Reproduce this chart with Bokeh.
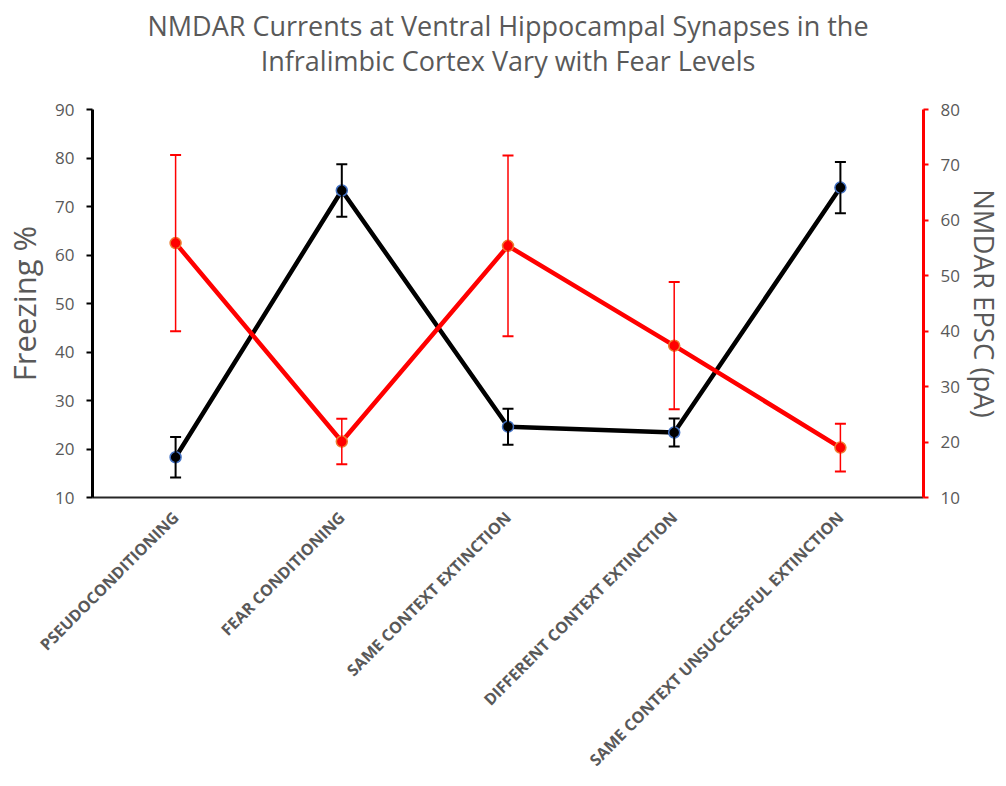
import math
from bokeh.plotting import figure
from bokeh.models import Range1d, LinearAxis, Whisker, TeeHead, ColumnDataSource, FixedTicker, Title
from bokeh.embed import file_html
from bokeh.resources import INLINE

categories = ["PSEUDOCONDITIONING", "FEAR CONDITIONING", "SAME CONTEXT EXTINCTION",
              "DIFFERENT CONTEXT EXTINCTION", "SAME CONTEXT UNSUCCESSFUL EXTINCTION"]
freezing = [18.3, 73.3, 24.6, 23.4, 73.9]
freezing_err = [4.2, 5.4, 3.7, 2.9, 5.3]
epsc = [55.9, 20.1, 55.4, 37.4, 19.0]
epsc_err = [15.9, 4.1, 16.3, 11.5, 4.3]
left_ticks = [10, 20, 30, 40, 50, 60, 70, 80, 90]
right_ticks = [10, 20, 30, 40, 50, 60, 70, 80]
title_lines = ["NMDAR Currents at Ventral Hippocampal Synapses in the",
               "Infralimbic Cortex Vary with Fear Levels"]

FONT = "Open Sans"
GREY = "#595959"

p = figure(x_range=categories, y_range=Range1d(10, 90), width=1006, height=786,
           output_backend="svg", toolbar_location=None,
           min_border_left=92, min_border_right=83, min_border_top=109, min_border_bottom=289)
p.title = None
p.outline_line_color = None
p.xgrid.grid_line_color = None
p.ygrid.grid_line_color = None
p.extra_y_ranges = {"epsc": Range1d(10, 80)}

# title: two lines plus a blank spacer line
p.add_layout(Title(text="\n".join(title_lines) + "\n ", align="center", text_align="center",
                   text_font=FONT, text_font_size="27px", text_line_height=0.94,
                   text_color=GREY, text_font_style="normal", standoff=-8,
                   vertical_align="bottom"), "above")

# left axis
ya = p.yaxis[0]
ya.ticker = FixedTicker(ticks=left_ticks)
ya.axis_label = "Freezing %"
ya.axis_label_text_font = FONT
ya.axis_label_text_font_size = "31px"
ya.axis_label_text_font_style = "normal"
ya.axis_label_text_color = GREY
ya.axis_label_standoff = 7
ya.axis_line_color = "black"
ya.axis_line_width = 3
ya.major_tick_line_color = "black"
ya.major_tick_line_width = 2
ya.major_tick_out = 6
ya.major_tick_in = 0
ya.minor_tick_line_color = None
ya.major_label_text_font = FONT
ya.major_label_text_font_size = "17px"
ya.major_label_text_color = GREY
ya.major_label_standoff = 12

# right axis (line, ticks, tick labels)
ra = LinearAxis(y_range_name="epsc", ticker=FixedTicker(ticks=right_ticks))
ra.axis_line_color = "red"
ra.axis_line_width = 3
ra.major_tick_line_color = "red"
ra.major_tick_line_width = 2
ra.major_tick_out = 5
ra.major_tick_in = 0
ra.minor_tick_line_color = None
ra.major_label_text_font = FONT
ra.major_label_text_font_size = "17px"
ra.major_label_text_color = GREY
ra.major_label_standoff = 12
p.add_layout(ra, "right")

# right axis title as a side title
p.add_layout(Title(text="NMDAR EPSC (pA)", align="center", vertical_align="middle",
                   text_font=FONT, text_font_size="27.5px", text_color=GREY,
                   text_font_style="normal", standoff=4), "right")

# bottom axis
xa = p.xaxis[0]
xa.axis_line_color = "#262626"
xa.axis_line_width = 2
xa.major_tick_line_color = None
xa.minor_tick_line_color = None
xa.major_label_orientation = math.pi / 4
xa.major_label_text_font = FONT
xa.major_label_text_font_size = "16px"
xa.major_label_text_font_style = "bold"
xa.major_label_text_color = GREY
xa.major_label_standoff = 11

src_f = ColumnDataSource(dict(x=categories, y=freezing,
                              lo=[v - e for v, e in zip(freezing, freezing_err)],
                              hi=[v + e for v, e in zip(freezing, freezing_err)]))
src_e = ColumnDataSource(dict(x=categories, y=epsc,
                              lo=[v - e for v, e in zip(epsc, epsc_err)],
                              hi=[v + e for v, e in zip(epsc, epsc_err)]))

wf = Whisker(source=src_f, base="x", lower="lo", upper="hi", line_color="black", line_width=2,
             upper_head=TeeHead(size=11, line_color="black", line_width=2),
             lower_head=TeeHead(size=11, line_color="black", line_width=2), level="glyph")
we = Whisker(source=src_e, base="x", lower="lo", upper="hi", line_color="red", line_width=1.5,
             y_range_name="epsc",
             upper_head=TeeHead(size=11, line_color="red", line_width=2),
             lower_head=TeeHead(size=11, line_color="red", line_width=2), level="glyph")
p.add_layout(wf)
p.add_layout(we)

p.line("x", "y", source=src_f, line_color="black", line_width=4.5)
p.line("x", "y", source=src_e, line_color="red", line_width=4.5, y_range_name="epsc")
p.scatter("x", "y", source=src_f, size=11, fill_color="black", line_color="#4472C4", line_width=1.5)
p.scatter("x", "y", source=src_e, size=11, fill_color="red", line_color="#ED7D31", line_width=1.5,
          y_range_name="epsc")

open("out.html", "w").write(file_html(p, INLINE))
